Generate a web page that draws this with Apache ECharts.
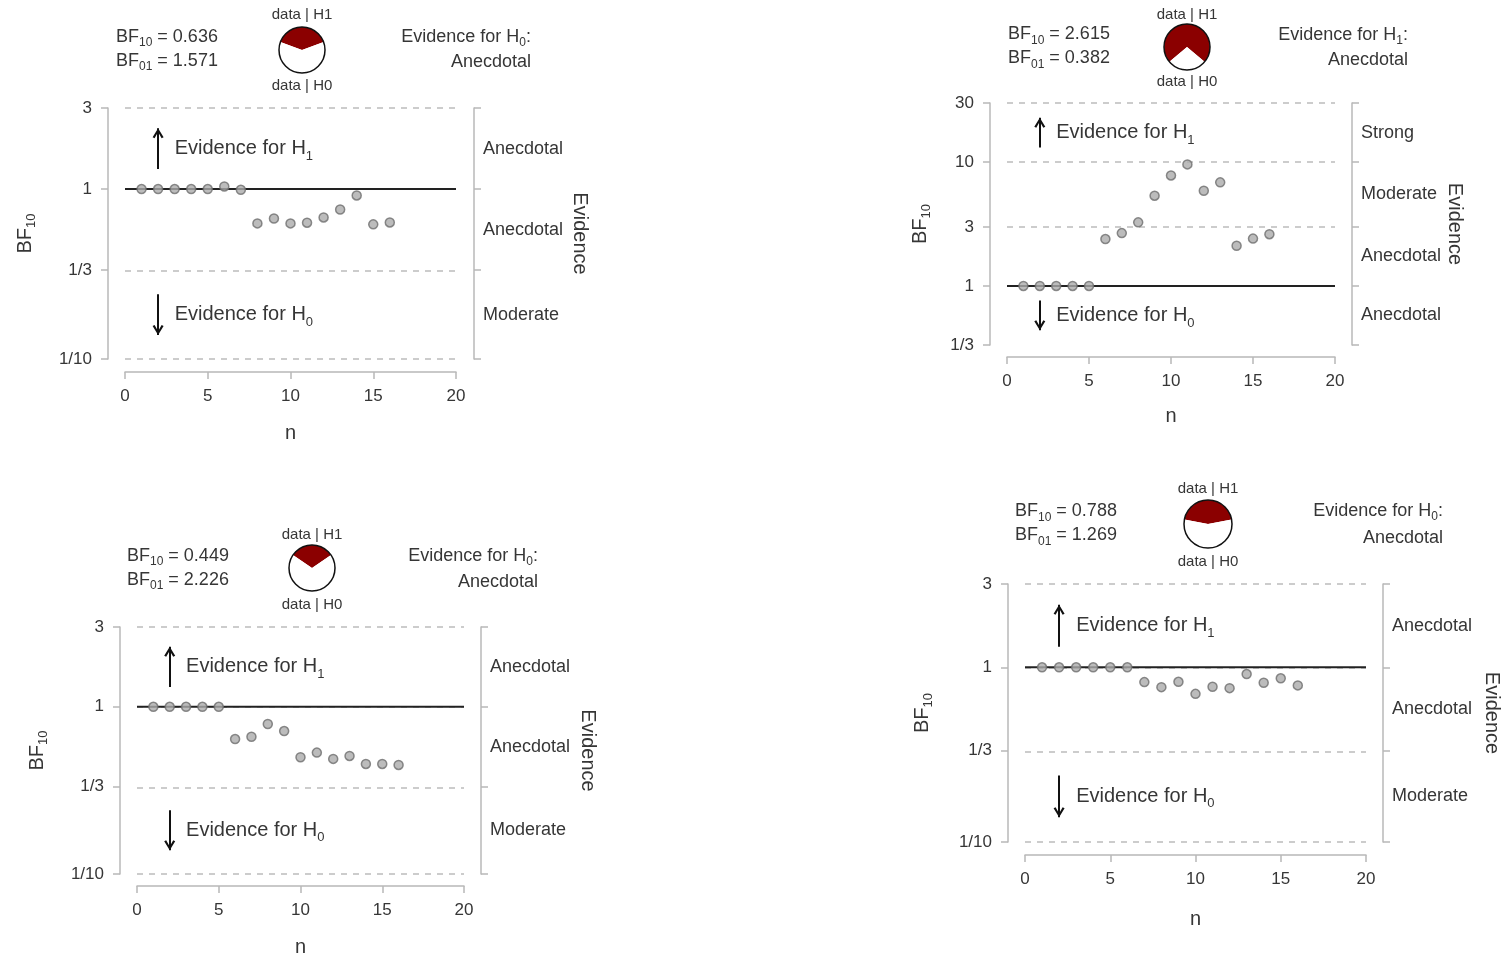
<!DOCTYPE html>
<html>
<head>
<meta charset="utf-8">
<script src="https://cdn.jsdelivr.net/npm/echarts@6/dist/echarts.min.js"></script>
<style>
html,body{margin:0;padding:0;background:#ffffff;}
#chart{width:1503px;height:958px;}
</style>
</head>
<body>
<div id="chart"></div>
<script>
// ---------------- data ----------------
const nValues = [1,2,3,4,5,6,7,8,9,10,11,12,13,14,15,16];
const bfTopLeft     = [1,1,1,1,1,1.036,0.99,0.628,0.671,0.628,0.634,0.681,0.758,0.917,0.62,0.636];
const bfTopRight    = [1,1,1,1,1,2.39,2.67,3.26,5.35,7.8,9.58,5.87,6.86,2.11,2.41,2.615];
const bfBottomLeft  = [1,1,1,1,1,0.641,0.662,0.789,0.716,0.499,0.532,0.488,0.508,0.455,0.455,0.449];
const bfBottomRight = [1,1,1,1,1,1,0.823,0.77,0.826,0.705,0.774,0.76,0.915,0.816,0.865,0.788];
const bf10Values = [0.636, 2.615, 0.449, 0.788];
const bf01Values = [1.571, 0.382, 2.226, 1.269];
const evidenceHypothesis = ['0', '1', '0', '0'];
const evidenceStrength = ['Anecdotal', 'Anecdotal', 'Anecdotal', 'Anecdotal'];
const yTicksLow = [0.1, 1/3, 1, 3];
const yTickLabelsLow = ['1/10', '1/3', '1', '3'];
const yTicksHigh = [1/3, 1, 3, 10, 30];
const yTickLabelsHigh = ['1/3', '1', '3', '10', '30'];
const bandLabelsLow = ['Moderate', 'Anecdotal', 'Anecdotal'];
const bandLabelsHigh = ['Anecdotal', 'Anecdotal', 'Moderate', 'Strong'];
const xRange = [0, 20];
const xTickStep = 5;

// ---------------- layout (pixels) ----------------
const layouts = [
  {left:125, right:456, top:108, bottom:359, yOff:17, rOff:18, xOff:13, yNameGap:70, rNameGap:96, xNameGap:51,
   bfX:116, bfY:49, pieX:302, pieY:50, pieR:23, h1Y:15, h0Y:86, evX:531, evY1:37, evY2:62},
  {left:1007, right:1335, top:103, bottom:345, yOff:17, rOff:17, xOff:12, yNameGap:57, rNameGap:93, xNameGap:49,
   bfX:1008, bfY:46.5, pieX:1187, pieY:47, pieR:23, h1Y:15, h0Y:82, evX:1408, evY1:35, evY2:60},
  {left:137, right:464, top:627, bottom:875, yOff:17, rOff:17, xOff:12, yNameGap:70, rNameGap:97, xNameGap:51,
   bfX:127, bfY:568, pieX:312, pieY:568, pieR:23, h1Y:535, h0Y:605, evX:538, evY1:556, evY2:582},
  {left:1025, right:1366, top:584, bottom:842, yOff:17, rOff:17, xOff:13, yNameGap:73, rNameGap:99, xNameGap:54,
   bfX:1015, bfY:523.5, pieX:1208, pieY:524, pieR:24, h1Y:489, h0Y:562, evX:1443, evY1:511, evY2:538}
];

const panels = [
  {bf: bfTopLeft,     ticks: yTicksLow,  tickLabels: yTickLabelsLow,  bands: bandLabelsLow},
  {bf: bfTopRight,    ticks: yTicksHigh, tickLabels: yTickLabelsHigh, bands: bandLabelsHigh},
  {bf: bfBottomLeft,  ticks: yTicksLow,  tickLabels: yTickLabelsLow,  bands: bandLabelsLow},
  {bf: bfBottomRight, ticks: yTicksLow,  tickLabels: yTickLabelsLow,  bands: bandLabelsLow}
];

// ---------------- styles ----------------
const FONT = '"Liberation Sans", Arial, Helvetica, sans-serif';
const TEXT = '#363636';
const AXIS = '#b8b8b8';
const DASH = '#cccccc';
const RED = '#8b0000';
const CHEVRON = 'path://M0,9 L5,0 L10,9 L8.2,10 L5,3.8 L1.8,10 Z';

function nearestLabel(v, values, labels) {
  let best = 0, bd = Infinity;
  values.forEach((t, i) => { const d = Math.abs(Math.log10(t) - Math.log10(v)); if (d < bd) { bd = d; best = i; } });
  return labels[best];
}

const grid = [], xAxis = [], yAxis = [], series = [], graphic = [];

panels.forEach((p, i) => {
  const L = layouts[i];
  const ticks = p.ticks;
  const yMin = ticks[0], yMax = ticks[ticks.length - 1];
  const mids = [];
  for (let k = 0; k < ticks.length - 1; k++) mids.push(Math.sqrt(ticks[k] * ticks[k + 1]));

  grid.push({left: L.left, top: L.top, width: L.right - L.left, height: L.bottom - L.top, containLabel: false});

  xAxis.push({
    type: 'value', gridIndex: i, min: xRange[0], max: xRange[1], interval: xTickStep,
    offset: L.xOff,
    axisLine: {show: true, onZero: false, lineStyle: {color: AXIS, width: 1.5}},
    axisTick: {show: true, length: 7, lineStyle: {color: AXIS, width: 1.5}},
    axisLabel: {fontSize: 17, fontFamily: FONT, color: TEXT, margin: 16},
    splitLine: {show: false},
    name: 'n', nameLocation: 'middle', nameGap: L.xNameGap, nameMoveOverlap: false,
    nameTextStyle: {fontSize: 20, fontFamily: FONT, color: TEXT}
  });

  // left axis
  yAxis.push({
    type: 'log', logBase: 10, gridIndex: i, min: yMin, max: yMax, position: 'left', offset: L.yOff,
    axisLine: {show: true, onZero: false, lineStyle: {color: AXIS, width: 1.5}},
    axisTick: {show: true, length: 7, customValues: ticks, lineStyle: {color: AXIS, width: 1.5}},
    axisLabel: {customValues: ticks, fontSize: 17, fontFamily: FONT, color: TEXT, margin: 16,
      formatter: v => nearestLabel(v, ticks, p.tickLabels)},
    splitLine: {show: false},
    name: '{a|BF}{s|10}', nameLocation: 'middle', nameRotate: 90, nameGap: L.yNameGap, nameMoveOverlap: false,
    nameTextStyle: {color: TEXT, fontFamily: FONT, rich: {
      a: {fontSize: 20, fontFamily: FONT, color: TEXT, lineHeight: 26},
      s: {fontSize: 13, fontFamily: FONT, color: TEXT, lineHeight: 26, verticalAlign: 'bottom'}
    }}
  });
  // right evidence axis
  yAxis.push({
    type: 'log', logBase: 10, gridIndex: i, min: yMin, max: yMax, position: 'right', offset: L.rOff,
    axisLine: {show: true, onZero: false, lineStyle: {color: AXIS, width: 1.5}},
    axisTick: {show: true, length: 7, customValues: ticks, lineStyle: {color: AXIS, width: 1.5}},
    axisLabel: {customValues: mids, fontSize: 18, fontFamily: FONT, color: TEXT, margin: 9,
      formatter: v => nearestLabel(v, mids, p.bands)},
    splitLine: {show: false},
    name: 'Evidence', nameLocation: 'middle', nameRotate: -90, nameGap: L.rNameGap, nameMoveOverlap: false,
    nameTextStyle: {fontSize: 20, fontFamily: FONT, color: TEXT}
  });

  const yIdx = 2 * i;
  const topMid = mids[mids.length - 1], botMid = mids[0];
  const half = 0.12;
  const up = [Math.pow(10, Math.log10(topMid) - half), Math.pow(10, Math.log10(topMid) + half)];
  const down = [Math.pow(10, Math.log10(botMid) + half), Math.pow(10, Math.log10(botMid) - half)];
  const arrowStyle = {color: '#111111', width: 2, type: 'solid'};
  const annRich = {
    a: {fontSize: 20, fontFamily: FONT, color: TEXT, lineHeight: 28},
    s: {fontSize: 13, fontFamily: FONT, color: TEXT, lineHeight: 28, verticalAlign: 'bottom'}
  };

  // reference line at BF = 1 plus dashed levels, arrows and annotations
  series.push({
    type: 'line', xAxisIndex: i, yAxisIndex: yIdx, z: 2, silent: true,
    data: [[xRange[0], 1], [xRange[1], 1]],
    symbol: 'none', lineStyle: {color: '#222222', width: 2},
    markLine: {
      z: 1, silent: true, symbol: 'none', label: {show: false},
      lineStyle: {color: DASH, width: 2, type: [6, 6]},
      data: ticks.map(t => ({yAxis: t})).concat([
        [{coord: [2, up[0]], symbol: 'none', lineStyle: arrowStyle}, {coord: [2, up[1]], symbol: CHEVRON, symbolSize: [11, 10], symbolOffset: [0, 5]}],
        [{coord: [2, down[0]], symbol: 'none', lineStyle: arrowStyle}, {coord: [2, down[1]], symbol: CHEVRON, symbolSize: [11, 10], symbolOffset: [0, 5]}]
      ])
    },
    markPoint: {
      silent: true, symbol: 'circle', symbolSize: 0,
      label: {show: true, position: 'right', distance: 0, rich: annRich},
      data: [
        {coord: [3, topMid], label: {formatter: '{a|Evidence for H}{s|1}', rich: annRich}},
        {coord: [3, botMid], label: {formatter: '{a|Evidence for H}{s|0}', rich: annRich}}
      ]
    }
  });

  series.push({
    type: 'scatter', xAxisIndex: i, yAxisIndex: yIdx, z: 3, silent: true,
    symbol: 'circle', symbolSize: 9,
    itemStyle: {color: '#ababab', borderColor: '#6e6e6e', borderWidth: 1.5},
    data: nValues.map((n, k) => [n, p.bf[k]])
  });

  // pie (probability wheel)
  const bf10 = bf10Values[i];
  const share = bf10 / (bf10 + 1);
  series.push({
    type: 'pie', silent: true, center: [L.pieX, L.pieY], radius: L.pieR,
    startAngle: 90 + 180 * share, clockwise: true, label: {show: false}, labelLine: {show: false},
    itemStyle: {borderWidth: 0}, emphasis: {disabled: true},
    data: [
      {value: bf10, name: 'data | H1', itemStyle: {color: RED}},
      {value: 1, name: 'data | H0', itemStyle: {color: '#ffffff'}}
    ]
  });

  graphic.push({type: 'circle', z: 100, silent: true, shape: {cx: L.pieX, cy: L.pieY, r: L.pieR},
    style: {fill: 'none', stroke: '#111111', lineWidth: 1.5}});
  graphic.push({type: 'text', z: 100, silent: true, x: L.pieX, y: L.h1Y,
    style: {text: 'data | H1', font: '15px ' + FONT, fill: TEXT, align: 'center', verticalAlign: 'middle', textAlign: 'center', textVerticalAlign: 'middle'}});
  graphic.push({type: 'text', z: 100, silent: true, x: L.pieX, y: L.h0Y,
    style: {text: 'data | H0', font: '15px ' + FONT, fill: TEXT, align: 'center', verticalAlign: 'middle', textAlign: 'center', textVerticalAlign: 'middle'}});

  const hdrRich = {
    a: {fontSize: 18, fontFamily: FONT, fill: TEXT, color: TEXT, lineHeight: 24},
    s: {fontSize: 12, fontFamily: FONT, fill: TEXT, color: TEXT, lineHeight: 24, verticalAlign: 'bottom'}
  };
  graphic.push({type: 'text', z: 100, silent: true, x: L.bfX, y: L.bfY,
    style: {text: '{a|BF}{s|10}{a| = ' + bf10.toFixed(3) + '}\n{a|BF}{s|01}{a| = ' + bf01Values[i].toFixed(3) + '}',
      rich: hdrRich, fill: TEXT, align: 'left', verticalAlign: 'middle', textAlign: 'left', textVerticalAlign: 'middle'}});
  graphic.push({type: 'text', z: 100, silent: true, x: L.evX, y: L.evY1,
    style: {text: '{a|Evidence for H}{s|' + evidenceHypothesis[i] + '}{a|:}', rich: hdrRich, fill: TEXT,
      align: 'right', verticalAlign: 'middle', textAlign: 'right', textVerticalAlign: 'middle'}});
  graphic.push({type: 'text', z: 100, silent: true, x: L.evX, y: L.evY2,
    style: {text: evidenceStrength[i], font: '18px ' + FONT, fill: TEXT,
      align: 'right', verticalAlign: 'middle', textAlign: 'right', textVerticalAlign: 'middle'}});
});

const chart = echarts.init(document.getElementById('chart'), null, {renderer: 'canvas'});
chart.setOption({
  backgroundColor: '#ffffff',
  animation: false,
  textStyle: {fontFamily: FONT},
  grid, xAxis, yAxis, series, graphic
});
</script>
</body>
</html>
